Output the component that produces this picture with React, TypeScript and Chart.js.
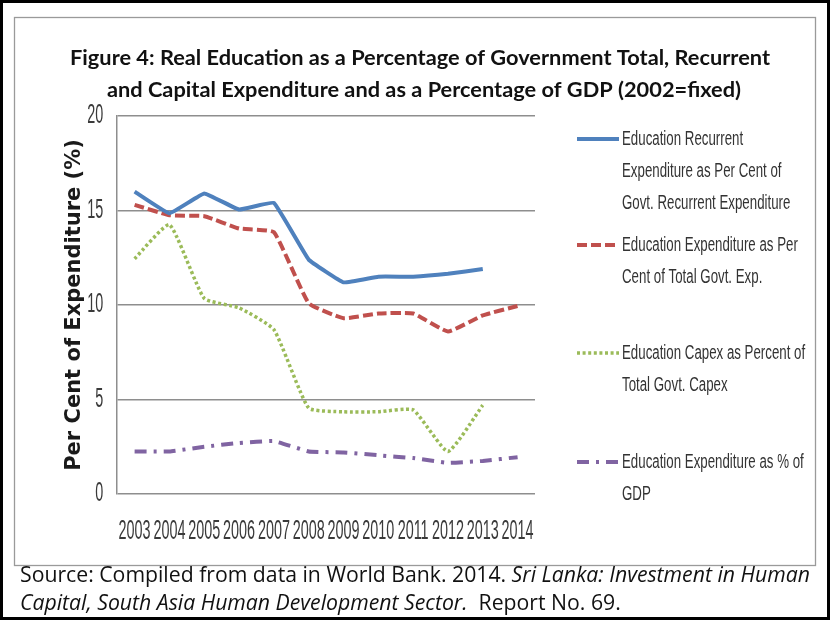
import React, { useEffect, useRef } from "react";
import { Chart, registerables } from "chart.js";

Chart.register(...registerables);

// ---------- data ----------
const years = ["2003", "2004", "2005", "2006", "2007", "2008", "2009", "2010", "2011", "2012", "2013", "2014"];
const recurrentShare = [16.0, 14.85, 15.9, 15.05, 15.4, 12.4, 11.2, 11.5, 11.5, 11.65, 11.9, null];
const totalShare = [15.3, 14.75, 14.7, 14.05, 13.85, 10.1, 9.3, 9.55, 9.55, 8.6, 9.45, 9.95];
const capexShare = [12.45, 14.25, 10.35, 9.85, 8.7, 4.55, 4.35, 4.35, 4.45, 2.25, 4.7, null];
const gdpShare = [2.25, 2.25, 2.5, 2.7, 2.8, 2.25, 2.2, 2.05, 1.9, 1.65, 1.75, 1.95];

const yMin = 0;
const yMax = 20;
const yStep = 5;

const titleLines = [
  "Figure 4: Real Education as a Percentage of Government Total, Recurrent",
  "and Capital Expenditure and as a Percentage of GDP (2002=fixed)",
];
const yAxisTitle = "Per Cent of Expenditure (%)";

const seriesLabels = [
  ["Education Recurrent", "Expenditure as Per Cent of", "Govt. Recurrent Expenditure"],
  ["Education Expenditure as Per", "Cent of Total Govt. Exp."],
  ["Education Capex as Percent of", "Total Govt. Capex"],
  ["Education Expenditure as % of", "GDP"],
];
const seriesColors = ["#4F81BD", "#C0504D", "#9BBB59", "#8064A2"];
const seriesDashes = [[], [10, 4], [3, 2.6], [12, 7, 3, 7]];
const seriesWidths = [4, 4, 3.5, 4];
const seriesTension = [0.08, 0.12, 0.15, 0.1];

const sourceLine1 = [
  { text: "Source: Compiled from data in World Bank. 2014. ", italic: false },
  { text: "Sri Lanka: Investment in Human", italic: true },
];
const sourceLine2 = [
  { text: "Capital, South Asia Human Development Sector.", italic: true },
  { text: "  Report No. 69.", italic: false },
];

const NARROW = '"Liberation Sans Narrow", "Arial Narrow", "Liberation Sans", sans-serif';

function condensedText(ctx: CanvasRenderingContext2D, text: string, x: number, y: number, sx: number, align: CanvasTextAlign) {
  ctx.save();
  ctx.translate(x, y);
  ctx.scale(sx, 1);
  ctx.textAlign = align;
  ctx.fillText(text, 0, 0);
  ctx.restore();
}

const decorPlugin = {
  id: "decor",
  beforeDraw(chart: any) {
    const ctx: CanvasRenderingContext2D = chart.ctx;
    ctx.save();
    ctx.fillStyle = "#ffffff";
    ctx.fillRect(0, 0, chart.width, chart.height);
    // inner grey frame
    ctx.strokeStyle = "#9a9a9a";
    ctx.lineWidth = 1.3;
    ctx.strokeRect(14.5, 17.5, 801, 548);
    // outer black frame
    ctx.fillStyle = "#000000";
    ctx.fillRect(0, 0, 830, 3);
    ctx.fillRect(0, 0, 3, 620);
    ctx.fillRect(827, 0, 3, 620);
    ctx.fillRect(0, 617, 830, 3);
    ctx.restore();
  },
  afterDraw(chart: any) {
    const ctx: CanvasRenderingContext2D = chart.ctx;
    const area = chart.chartArea;
    ctx.save();

    // ----- title -----
    ctx.fillStyle = "#111111";
    ctx.textBaseline = "alphabetic";
    ctx.font = 'bold 21.5px Lato, "Liberation Sans", sans-serif';
    const titleSx = 700 / ctx.measureText(titleLines[0]).width;
    condensedText(ctx, titleLines[0], 420, 65, titleSx, "center");
    condensedText(ctx, titleLines[1], 424, 97, titleSx, "center");

    // ----- tick labels (condensed) -----
    ctx.fillStyle = "#3a3a3a";
    ctx.font = `27px ${NARROW}`;
    const tickSx = 32 / ctx.measureText("2003").width;
    ctx.textBaseline = "middle";
    const xs = chart.scales.x;
    xs.ticks.forEach((t: any, i: number) => {
      const px = xs.getPixelForTick(i);
      const label = xs.getLabelForValue(t.value);
      condensedText(ctx, String(label), px, 532, tickSx, "center");
    });
    const ys = chart.scales.y;
    ys.ticks.forEach((t: any, i: number) => {
      const py = ys.getPixelForTick(i);
      condensedText(ctx, String(t.label), area.left - 14, py, tickSx, "right");
    });

    // ----- legend -----
    ctx.font = `20px ${NARROW}`;
    const m1 = ctx.measureText("Govt. Recurrent Expenditure").width;
    const m2 = ctx.measureText("Education Capex as Percent of").width;
    const legSx = (175 / m1 + 176 / m2) / 2;
    const rowTops = [139, 245, 353, 462];
    const lineGap = 32;
    seriesLabels.forEach((lines, si) => {
      const y0 = rowTops[si];
      ctx.save();
      ctx.strokeStyle = seriesColors[si];
      ctx.lineWidth = seriesWidths[si];
      ctx.setLineDash(seriesDashes[si]);
      ctx.lineCap = "butt";
      ctx.beginPath();
      ctx.moveTo(577, y0);
      ctx.lineTo(619, y0);
      ctx.stroke();
      ctx.restore();
      ctx.fillStyle = "#333333";
      lines.forEach((ln, li) => {
        condensedText(ctx, ln, 622, y0 + li * lineGap, legSx, "left");
      });
    });

    // ----- source -----
    ctx.fillStyle = "#111111";
    ctx.textBaseline = "alphabetic";
    ctx.textAlign = "left";
    const fam = '"Open Sans", "Noto Sans", sans-serif';
    const measureSegs = (segs: { text: string; italic: boolean }[], size: number) => {
      let w = 0;
      for (const s of segs) {
        ctx.font = `${s.italic ? "italic " : ""}${size}px ${fam}`;
        w += ctx.measureText(s.text).width;
      }
      return w;
    };
    const sSize = (18 * 790) / measureSegs(sourceLine1, 18);
    const drawSegs = (segs: { text: string; italic: boolean }[], x: number, y: number) => {
      let cx = x;
      for (const s of segs) {
        ctx.font = `${s.italic ? "italic " : ""}${sSize.toFixed(2)}px ${fam}`;
        ctx.fillText(s.text, cx, y);
        cx += ctx.measureText(s.text).width;
      }
    };
    drawSegs(sourceLine1, 20, 582);
    drawSegs(sourceLine2, 20, 610);

    ctx.restore();
  },
};

export default function App() {
  const ref = useRef<HTMLCanvasElement>(null);

  useEffect(() => {
    const canvas = ref.current;
    if (!canvas) return;
    const series = [recurrentShare, totalShare, capexShare, gdpShare];
    const chart = new Chart(canvas, {
      type: "line",
      data: {
        labels: years,
        datasets: series.map((d, i) => ({
          label: seriesLabels[i].join(" "),
          data: d,
          borderColor: seriesColors[i],
          backgroundColor: seriesColors[i],
          borderWidth: seriesWidths[i],
          borderDash: seriesDashes[i],
          borderJoinStyle: "round" as const,
          borderCapStyle: "butt" as const,
          pointRadius: 0,
          pointHoverRadius: 0,
          tension: seriesTension[i],
          fill: false,
          spanGaps: false,
        })),
      },
      options: {
        animation: false,
        responsive: false,
        devicePixelRatio: 1,
        events: [],
        layout: { padding: { left: 50, right: 295, top: 116, bottom: 126 } },
        plugins: {
          legend: { display: false },
          title: { display: false },
          tooltip: { enabled: false },
        },
        scales: {
          x: {
            type: "category",
            offset: true,
            grid: { display: false, drawTicks: false },
            border: { display: false },
            ticks: { display: false },
          },
          y: {
            min: yMin,
            max: yMax,
            ticks: { display: false, stepSize: yStep },
            grid: { color: "#8e8e8e", lineWidth: 1.5, drawTicks: false },
            border: { display: true, color: "#8e8e8e", width: 1.5 },
            title: {
              display: true,
              text: yAxisTitle,
              color: "#1a1a1a",
              font: { family: '"DejaVu Sans", Verdana, sans-serif', size: 21, weight: "bold", lineHeight: 1.2 },
              padding: { top: 12, bottom: 30 },
            },
          },
        },
      },
      plugins: [decorPlugin],
    });
    return () => chart.destroy();
  }, []);

  return (
    <div style={{ position: "absolute", left: 0, top: 0, width: 830, height: 620, background: "#fff" }}>
      <canvas ref={ref} width={830} height={620} style={{ display: "block", width: 830, height: 620 }} />
    </div>
  );
}
